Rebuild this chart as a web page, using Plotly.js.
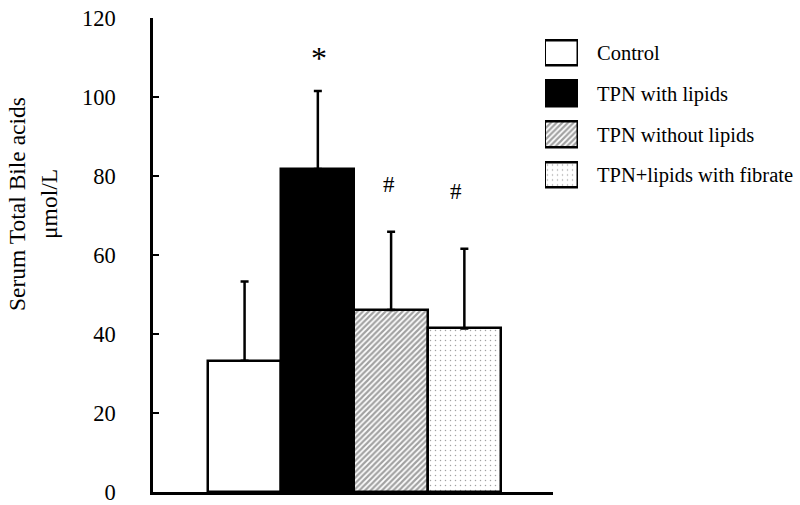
<!DOCTYPE html>
<html>
<head>
<meta charset="utf-8">
<script src="https://cdn.plot.ly/plotly-3.0.1.min.js"></script>
<style>
  body { margin: 0; background: #fff; }
  #graph { width: 800px; height: 505px; }
</style>
</head>
<body>
<div id="graph"></div>
<script>
// groupes et valeurs
let groupes = ['Control', 'TPN with lipids', 'TPN without lipids', 'TPN+lipids with fibrate'];
let moyennes = [33.2, 81.8, 46.1, 41.4];
let ecarts = [20.1, 19.7, 19.8, 20.2];
let signes = ['', '*', '#', '#'];
let ticks_y = [0, 20, 40, 60, 80, 100, 120];

let couleurs = ['#ffffff', '#000000', '#ffffff', '#ffffff'];
let motifs = ['', '', '/', '.'];
let tailles_motif = [4, 4, 4, 5];
let densites_motif = [0.4, 0.4, 0.55, 0.07];
let police = 'Liberation Serif, Times New Roman, serif';

let positions = groupes.map((g, i) => i);

function marqueur() {
  return {
    color: couleurs,
    line: { color: '#000', width: 2.5 },
    pattern: { shape: motifs, fgcolor: '#000', fillmode: 'overlay', size: tailles_motif, solidity: densites_motif }
  };
}

let barres = {
  x: positions,
  y: moyennes,
  type: 'bar',
  width: 1,
  showlegend: false,
  marker: marqueur(),
  error_y: {
    type: 'data', symmetric: false, array: ecarts, arrayminus: groupes.map(() => 0),
    color: '#000', thickness: 2.5, width: 4
  },
  hoverinfo: 'skip'
};

// petites cases de la légende
let legende = {
  x: groupes.map(() => 1),
  y: groupes,
  type: 'bar',
  orientation: 'h',
  xaxis: 'x2',
  yaxis: 'y2',
  width: 0.63,
  showlegend: false,
  marker: marqueur(),
  hoverinfo: 'skip'
};

let decalages = [0, 33, 47, 57];
let decal_x = [0, 1, -2, -8];
let annotations = [];
signes.forEach((s, i) => {
  if (s === '') return;
  annotations.push({
    x: positions[i], y: moyennes[i] + ecarts[i], xref: 'x', yref: 'y',
    text: s, showarrow: false, yshift: decalages[i], xshift: decal_x[i],
    font: { family: police, size: s === '*' ? 32 : 23, color: '#000' }
  });
});
annotations.push({
  x: (17 - 153) / 647, y: (492 - 204) / 474, xref: 'paper', yref: 'paper',
  xanchor: 'center', yanchor: 'middle',
  text: 'Serum Total Bile acids', textangle: -90, showarrow: false,
  font: { family: police, size: 23.5, color: '#000' }
});
annotations.push({
  x: (49 - 153) / 647, y: (492 - 204) / 474, xref: 'paper', yref: 'paper',
  xanchor: 'center', yanchor: 'middle',
  text: 'μmol/L', textangle: -90, showarrow: false,
  font: { family: police, size: 23.5, color: '#000' }
});

let forme = {
  width: 800,
  height: 505,
  margin: { l: 153, r: 0, t: 18, b: 13 },
  paper_bgcolor: '#fff',
  plot_bgcolor: 'rgba(0,0,0,0)',
  font: { family: police, size: 22, color: '#000' },
  bargap: 0,
  xaxis: {
    domain: [0, 400 / 647],
    range: [-1.25, 4.21],
    showgrid: false, zeroline: false, showticklabels: false, ticks: '',
    showline: true, linecolor: '#000', linewidth: 2.5,
    fixedrange: true
  },
  yaxis: {
    range: [0, 120],
    tickvals: ticks_y,
    ticks: 'inside', ticklen: 6, tickwidth: 2, tickcolor: '#000',
    ticklabelstandoff: 30,
    showgrid: false, zeroline: false,
    showline: true, linecolor: '#000', linewidth: 2.5,
    tickfont: { family: police, size: 22.5, color: '#000' },
    fixedrange: true
  },
  xaxis2: {
    domain: [(545 - 153) / 647, (578 - 153) / 647],
    range: [0, 1],
    anchor: 'y2',
    showgrid: false, zeroline: false, showticklabels: false, showline: false, ticks: '',
    fixedrange: true
  },
  yaxis2: {
    domain: [(492 - 195.5) / 474, (492 - 32.5) / 474],
    anchor: 'x2',
    side: 'right',
    autorange: 'reversed',
    showgrid: false, zeroline: false, showline: false, ticks: '',
    ticklabelstandoff: 18,
    tickfont: { family: police, size: 20.5, color: '#000' },
    fixedrange: true
  },
  annotations: annotations
};

Plotly.newPlot('graph', [barres, legende], forme, { displayModeBar: false });
</script>
</body>
</html>
